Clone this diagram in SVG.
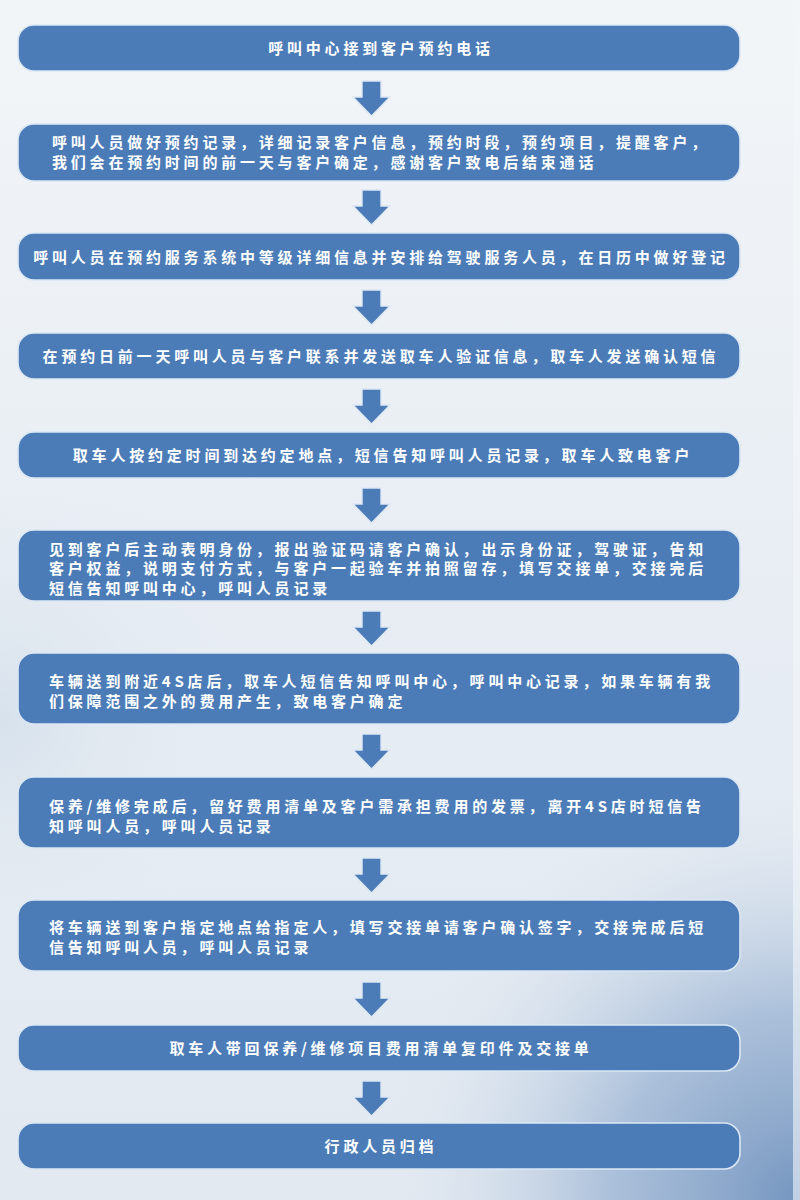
<svg xmlns="http://www.w3.org/2000/svg" width="800" height="1200" viewBox="0 0 800 1200">
<defs>
<linearGradient id="bg" x1="0" y1="0" x2="0" y2="1">
<stop offset="0" stop-color="#f2f5f8"/>
<stop offset="0.5" stop-color="#e7edf3"/>
<stop offset="1" stop-color="#e2e9f1"/>
</linearGradient>
<radialGradient id="blob" cx="800" cy="1200" r="420" gradientUnits="userSpaceOnUse">
<stop offset="0" stop-color="#6f91bd" stop-opacity="0.95"/>
<stop offset="0.45" stop-color="#93aed0" stop-opacity="0.7"/>
<stop offset="1" stop-color="#dfe7f0" stop-opacity="0"/>
</radialGradient>
<radialGradient id="leftglow" cx="0" cy="720" r="260" gradientUnits="userSpaceOnUse">
<stop offset="0" stop-color="#d3dfeb" stop-opacity="0.8"/>
<stop offset="1" stop-color="#e7edf3" stop-opacity="0"/>
</radialGradient>
<path id="arrow" d="M362,0 h19 v16 h9 l-18.5,19 l-18.5,-19 h9 z"/>
</defs>
<style>
.box{fill:#4b7cb8;stroke:#dbe7f4;stroke-width:1.6}
.arr{fill:#4b7cb8;stroke:#dde8f4;stroke-width:1.4}
.t{font-family:"Noto Sans CJK SC","Noto Sans",sans-serif;font-size:15px;font-weight:bold;fill:#ffffff;letter-spacing:3.8px}
.c{text-anchor:middle}
</style>
<rect x="0" y="0" width="800" height="1200" fill="url(#bg)"/>
<rect x="0" y="0" width="800" height="1200" fill="url(#leftglow)"/>
<rect x="0" y="0" width="800" height="1200" fill="url(#blob)"/>
<rect x="793" y="0" width="7" height="1200" fill="#f4f7fa" opacity="0.6"/>

<g id="connectors">
<use href="#arrow" class="arr" transform="translate(0,81)"/>
<use href="#arrow" class="arr" transform="translate(0,190)"/>
<use href="#arrow" class="arr" transform="translate(0,290)"/>
<use href="#arrow" class="arr" transform="translate(0,389)"/>
<use href="#arrow" class="arr" transform="translate(0,488)"/>
<use href="#arrow" class="arr" transform="translate(0,611)"/>
<use href="#arrow" class="arr" transform="translate(0,734)"/>
<use href="#arrow" class="arr" transform="translate(0,858)"/>
<use href="#arrow" class="arr" transform="translate(0,982)"/>
<use href="#arrow" class="arr" transform="translate(0,1081)"/>
</g>

<g id="n1">
<rect class="box" x="18" y="25" width="722" height="46" rx="16"/>
<text class="t c" x="381" y="53.5">呼叫中心接到客户预约电话</text>
</g>
<g id="n2">
<rect class="box" x="18" y="124" width="722" height="57" rx="16"/>
<text class="t" x="52" y="148">呼叫人员做好预约记录，详细记录客户信息，预约时段，预约项目，提醒客户，</text>
<text class="t" x="52" y="167.5">我们会在预约时间的前一天与客户确定，感谢客户致电后结束通话</text>
</g>
<g id="n3">
<rect class="box" x="18" y="233" width="722" height="47" rx="16"/>
<text class="t c" x="381" y="262.5">呼叫人员在预约服务系统中等级详细信息并安排给驾驶服务人员，在日历中做好登记</text>
</g>
<g id="n4">
<rect class="box" x="18" y="333" width="722" height="46" rx="16"/>
<text class="t c" x="381" y="361.5">在预约日前一天呼叫人员与客户联系并发送取车人验证信息，取车人发送确认短信</text>
</g>
<g id="n5">
<rect class="box" x="18" y="432" width="722" height="46" rx="16"/>
<text class="t c" x="383" y="460.5">取车人按约定时间到达约定地点，短信告知呼叫人员记录，取车人致电客户</text>
</g>
<g id="n6">
<rect class="box" x="18" y="530" width="722" height="71" rx="16"/>
<text class="t" x="49" y="554.5">见到客户后主动表明身份，报出验证码请客户确认，出示身份证，驾驶证，告知</text>
<text class="t" x="49" y="574">客户权益，说明支付方式，与客户一起验车并拍照留存，填写交接单，交接完后</text>
<text class="t" x="49" y="593.5">短信告知呼叫中心，呼叫人员记录</text>
</g>
<g id="n7">
<rect class="box" x="18" y="653" width="722" height="71" rx="16"/>
<text class="t" x="49" y="687">车辆送到附近4S店后，取车人短信告知呼叫中心，呼叫中心记录，如果车辆有我</text>
<text class="t" x="49" y="706.5">们保障范围之外的费用产生，致电客户确定</text>
</g>
<g id="n8">
<rect class="box" x="18" y="777" width="722" height="71" rx="16"/>
<text class="t" x="49" y="812">保养/维修完成后，留好费用清单及客户需承担费用的发票，离开4S店时短信告</text>
<text class="t" x="49" y="831.5">知呼叫人员，呼叫人员记录</text>
</g>
<g id="n9">
<rect class="box" x="18" y="900" width="722" height="71" rx="16"/>
<text class="t" x="49" y="933">将车辆送到客户指定地点给指定人，填写交接单请客户确认签字，交接完成后短</text>
<text class="t" x="49" y="953">信告知呼叫人员，呼叫人员记录</text>
</g>
<g id="n10">
<rect class="box" x="18" y="1025" width="722" height="46" rx="16"/>
<text class="t c" x="381" y="1053.5">取车人带回保养/维修项目费用清单复印件及交接单</text>
</g>
<g id="n11">
<rect class="box" x="18" y="1123" width="722" height="46" rx="16"/>
<text class="t c" x="381" y="1151.5">行政人员归档</text>
</g>
</svg>
